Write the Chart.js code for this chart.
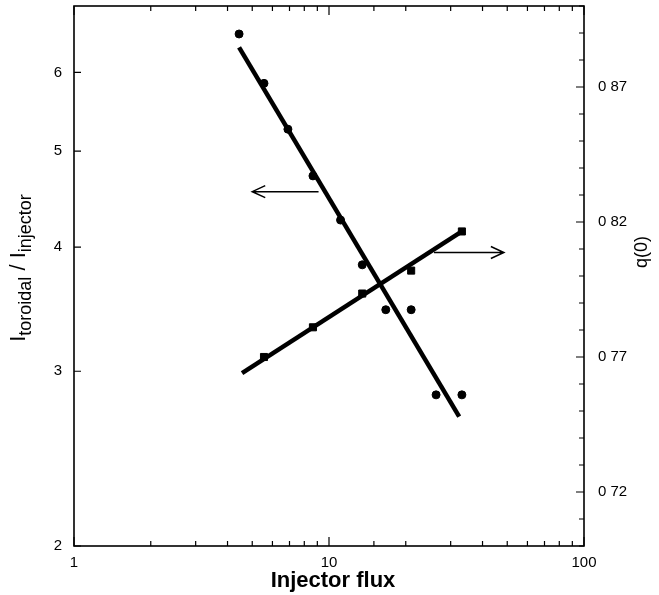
<!DOCTYPE html>
<html>
<head>
<meta charset="utf-8">
<script src="https://cdn.jsdelivr.net/npm/chart.js@4"></script>
<style>
  html, body { margin: 0; padding: 0; background: #fff; }
</style>
</head>
<body>
<canvas id="myChart" width="659" height="595"></canvas>
<script>
// measured points: Itoroidal/Iinjector (left axis, circles)
const fluxRatio = [4.44, 5.56, 6.9, 8.65, 11.1, 13.5, 16.7, 21.0, 26.3, 33.2];
const ratioVals = [6.56, 5.85, 5.26, 4.72, 4.26, 3.84, 3.46, 3.46, 2.84, 2.84];
// measured points: q(0) (right axis, squares)
const fluxQ = [5.56, 8.65, 13.5, 21.0, 33.2];
const qVals = [0.770, 0.781, 0.7935, 0.802, 0.8165];
// fitted lines (end points)
const ratioFitX = [4.44, 32.4];
const ratioFitY = [6.36, 2.70];
const qFitX = [4.56, 33.2];
const qFitY = [0.764, 0.8165];
// arrows pointing to the axis each curve belongs to
const leftArrowX = [9.1, 5.0];
const leftArrowY = 4.55;
const rightArrowX = [25.8, 48.5];
const rightArrowY = 0.8087;
// tick labels
const xTickLabels = [1, 10, 100];
const leftTickLabels = [2, 3, 4, 5, 6];
const rightTickValues = [0.72, 0.77, 0.82, 0.87];
const rightTickLabels = ['0 72', '0 77', '0 82', '0 87'];

const FONT = "'Liberation Sans', Arial, sans-serif";
const near = (a, b) => Math.abs(a - b) < 1e-6 * Math.max(1, Math.abs(b));

const toPoints = (xs, ys) => xs.map((x, i) => ({ x: x, y: ys[i] }));

function drawArrow(ctx, x1, y, x2) {
    const dir = Math.sign(x2 - x1);
    ctx.beginPath();
    ctx.moveTo(x1, y);
    ctx.lineTo(x2, y);
    ctx.moveTo(x2 - dir * 13, y - 6);
    ctx.lineTo(x2, y);
    ctx.lineTo(x2 - dir * 13, y + 6);
    ctx.stroke();
}

const framePlugin = {
    id: 'frame',
    afterDraw(chart) {
        const ctx = chart.ctx;
        const ca = chart.chartArea;
        const xs = chart.scales.x, yl = chart.scales.y, yr = chart.scales.y2;
        ctx.save();
        ctx.strokeStyle = '#000';
        ctx.lineWidth = 1.6;
        ctx.strokeRect(ca.left, ca.top, ca.right - ca.left, ca.bottom - ca.top);

        ctx.lineWidth = 1.2;
        ctx.beginPath();
        xs.ticks.forEach(t => {
            const px = xs.getPixelForValue(t.value);
            const len = xTickLabels.some(v => near(t.value, v)) ? 9 : 5;
            ctx.moveTo(px, ca.bottom); ctx.lineTo(px, ca.bottom - len);
            ctx.moveTo(px, ca.top); ctx.lineTo(px, ca.top + len);
        });
        leftTickLabels.forEach(v => {
            const py = yl.getPixelForValue(v);
            ctx.moveTo(ca.left, py); ctx.lineTo(ca.left + 7, py);
        });
        yr.ticks.forEach(t => {
            const py = yr.getPixelForValue(t.value);
            const len = rightTickValues.some(v => near(t.value, v)) ? 8 : 5;
            ctx.moveTo(ca.right, py); ctx.lineTo(ca.right - len, py);
        });
        ctx.stroke();

        // arrows
        ctx.lineWidth = 1.5;
        drawArrow(ctx, xs.getPixelForValue(leftArrowX[0]), yl.getPixelForValue(leftArrowY), xs.getPixelForValue(leftArrowX[1]));
        drawArrow(ctx, xs.getPixelForValue(rightArrowX[0]), yr.getPixelForValue(rightArrowY), xs.getPixelForValue(rightArrowX[1]));

        // axis titles
        ctx.fillStyle = '#000';
        ctx.textBaseline = 'alphabetic';
        ctx.textAlign = 'center';
        ctx.font = 'bold 22px ' + FONT;
        ctx.fillText('Injector flux', (ca.left + ca.right) / 2 + 4, 587);

        // q(0)
        ctx.save();
        ctx.translate(647, 252);
        ctx.rotate(-Math.PI / 2);
        ctx.font = '18px ' + FONT;
        ctx.fillText('q(0)', 0, 0);
        ctx.restore();

        // I_toroidal / I_injector
        const parts = [
            { t: 'I', sub: false }, { t: 'toroidal', sub: true },
            { t: ' / ', sub: false },
            { t: 'I', sub: false }, { t: 'injector', sub: true }
        ];
        const mainFont = '22px ' + FONT, subFont = '18px ' + FONT;
        ctx.save();
        ctx.translate(25, 268);
        ctx.rotate(-Math.PI / 2);
        ctx.textAlign = 'left';
        let total = 0;
        parts.forEach(p => { ctx.font = p.sub ? subFont : mainFont; p.w = ctx.measureText(p.t).width; total += p.w; });
        let cx = -total / 2;
        parts.forEach(p => {
            ctx.font = p.sub ? subFont : mainFont;
            ctx.fillText(p.t, cx, p.sub ? 6 : 0);
            cx += p.w;
        });
        ctx.restore();
        ctx.restore();
    }
};

const noPadY = s => { s.paddingTop = 0; s.paddingBottom = 0; };

const ctx = document.getElementById('myChart').getContext('2d');
const chart = new Chart(ctx, {
    type: 'scatter',
    data: {
        datasets: [
            {
                label: 'ratio fit',
                type: 'line',
                data: toPoints(ratioFitX, ratioFitY),
                yAxisID: 'y',
                borderColor: '#000',
                borderWidth: 4.5,
                pointRadius: 0,
                fill: false
            },
            {
                label: 'q fit',
                type: 'line',
                data: toPoints(qFitX, qFitY),
                yAxisID: 'y2',
                borderColor: '#000',
                borderWidth: 4.5,
                pointRadius: 0,
                fill: false
            },
            {
                label: 'Itoroidal/Iinjector',
                data: toPoints(fluxRatio, ratioVals),
                yAxisID: 'y',
                pointStyle: 'circle',
                pointRadius: 4,
                backgroundColor: '#000',
                borderColor: '#000'
            },
            {
                label: 'q(0)',
                data: toPoints(fluxQ, qVals),
                yAxisID: 'y2',
                pointStyle: 'rect',
                pointRadius: 5,
                backgroundColor: '#000',
                borderColor: '#000'
            }
        ]
    },
    options: {
        responsive: false,
        animation: false,
        devicePixelRatio: 1,
        layout: { padding: { top: 6, left: 0, right: 0, bottom: 0 } },
        plugins: {
            legend: { display: false },
            tooltip: { enabled: false }
        },
        scales: {
            x: {
                type: 'logarithmic',
                min: 1,
                max: 100,
                grid: { display: false },
                border: { display: false },
                afterFit: s => { s.height = 49; s.paddingLeft = 0; s.paddingRight = 0; },
                ticks: {
                    autoSkip: false,
                    maxRotation: 0,
                    padding: 0,
                    color: '#000',
                    font: { family: FONT, size: 15 },
                    callback: v => xTickLabels.some(t => near(v, t)) ? String(v) : ''
                }
            },
            y: {
                type: 'logarithmic',
                position: 'left',
                min: 2,
                max: 7,
                grid: { display: false },
                border: { display: false },
                afterFit: s => { s.width = 74; noPadY(s); },
                ticks: {
                    autoSkip: false,
                    padding: 4,
                    color: '#000',
                    font: { family: FONT, size: 15 },
                    callback: v => leftTickLabels.some(t => near(v, t)) ? String(v) : ''
                }
            },
            y2: {
                type: 'linear',
                position: 'right',
                min: 0.70,
                max: 0.90,
                grid: { display: false },
                border: { display: false },
                afterFit: s => { s.width = 75; noPadY(s); },
                ticks: {
                    stepSize: 0.01,
                    autoSkip: false,
                    padding: 6,
                    color: '#000',
                    font: { family: FONT, size: 15 },
                    callback: v => {
                        const i = rightTickValues.findIndex(t => near(v, t));
                        return i >= 0 ? rightTickLabels[i] : '';
                    }
                }
            }
        }
    },
    plugins: [framePlugin]
});
</script>
</body>
</html>
